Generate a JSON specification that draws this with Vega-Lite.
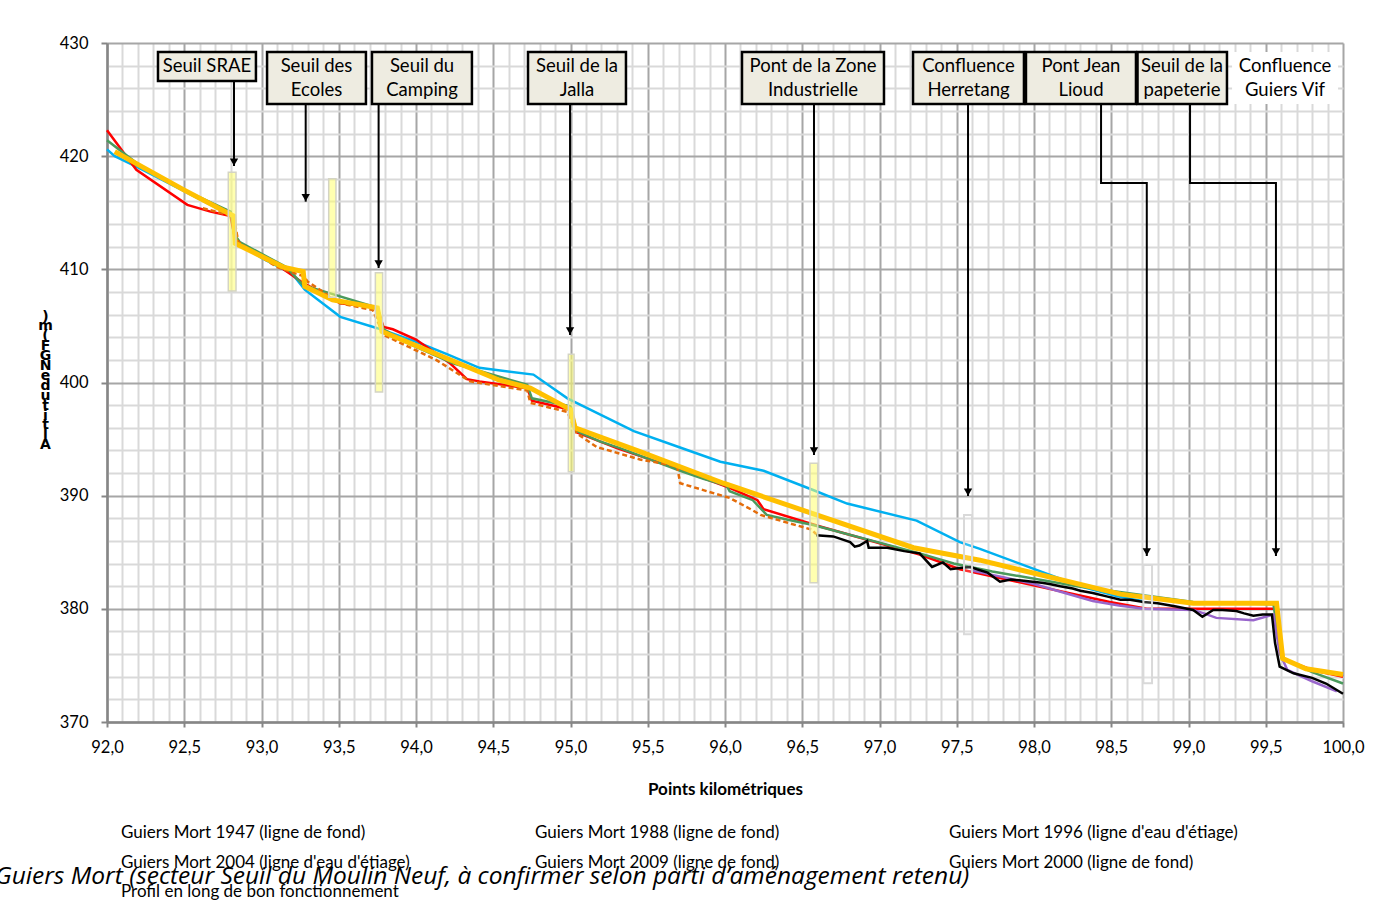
{
  "$schema": "https://vega.github.io/schema/vega-lite/v6.json",
  "width": 1236,
  "height": 679,
  "autosize": {"type": "none"},
  "padding": {"left": 107, "top": 43, "right": 35, "bottom": 180},
  "background": "white",
  "title": {
    "text": "Guiers Mort (secteur Seuil du Moulin Neuf, à confirmer selon parti d’aménagement retenu)",
    "orient": "bottom", "anchor": "start", "frame": "group", "dx": -112, "dy": -24, "offset": 0,
    "font": "Open Sans", "fontSize": 24.5, "fontStyle": "italic", "fontWeight": "normal", "color": "black", "baseline": "middle"
  },
  "config": {"view": {"stroke": null}, "font": "Lato"},
  "datasets": {
    "profiles": [
      {"s": "Guiers Mort 1947 (ligne de fond)", "km": 92.00, "alt": 420.6},
      {"s": "Guiers Mort 1947 (ligne de fond)", "km": 92.05, "alt": 420.0},
      {"s": "Guiers Mort 1947 (ligne de fond)", "km": 92.20, "alt": 419.0},
      {"s": "Guiers Mort 1947 (ligne de fond)", "km": 92.50, "alt": 416.9},
      {"s": "Guiers Mort 1947 (ligne de fond)", "km": 92.80, "alt": 414.8},
      {"s": "Guiers Mort 1947 (ligne de fond)", "km": 92.83, "alt": 412.6},
      {"s": "Guiers Mort 1947 (ligne de fond)", "km": 93.00, "alt": 411.0},
      {"s": "Guiers Mort 1947 (ligne de fond)", "km": 93.20, "alt": 409.6},
      {"s": "Guiers Mort 1947 (ligne de fond)", "km": 93.28, "alt": 408.2},
      {"s": "Guiers Mort 1947 (ligne de fond)", "km": 93.51, "alt": 405.8},
      {"s": "Guiers Mort 1947 (ligne de fond)", "km": 93.75, "alt": 404.8},
      {"s": "Guiers Mort 1947 (ligne de fond)", "km": 94.00, "alt": 403.6},
      {"s": "Guiers Mort 1947 (ligne de fond)", "km": 94.20, "alt": 402.5},
      {"s": "Guiers Mort 1947 (ligne de fond)", "km": 94.41, "alt": 401.3},
      {"s": "Guiers Mort 1947 (ligne de fond)", "km": 94.76, "alt": 400.7},
      {"s": "Guiers Mort 1947 (ligne de fond)", "km": 94.98, "alt": 398.6},
      {"s": "Guiers Mort 1947 (ligne de fond)", "km": 95.41, "alt": 395.7},
      {"s": "Guiers Mort 1947 (ligne de fond)", "km": 95.70, "alt": 394.3},
      {"s": "Guiers Mort 1947 (ligne de fond)", "km": 95.97, "alt": 393.0},
      {"s": "Guiers Mort 1947 (ligne de fond)", "km": 96.25, "alt": 392.2},
      {"s": "Guiers Mort 1947 (ligne de fond)", "km": 96.57, "alt": 390.5},
      {"s": "Guiers Mort 1947 (ligne de fond)", "km": 96.79, "alt": 389.3},
      {"s": "Guiers Mort 1947 (ligne de fond)", "km": 97.24, "alt": 387.8},
      {"s": "Guiers Mort 1947 (ligne de fond)", "km": 97.52, "alt": 385.9},
      {"s": "Guiers Mort 1947 (ligne de fond)", "km": 97.65, "alt": 385.3},
      {"s": "Guiers Mort 1947 (ligne de fond)", "km": 98.30, "alt": 382.0},
      {"s": "Guiers Mort 1947 (ligne de fond)", "km": 98.54, "alt": 381.1},
      {"s": "Guiers Mort 1947 (ligne de fond)", "km": 98.70, "alt": 380.7},

      {"s": "Guiers Mort 1996 (ligne d'eau d'étiage)", "km": 92.00, "alt": 422.3},
      {"s": "Guiers Mort 1996 (ligne d'eau d'étiage)", "km": 92.19, "alt": 418.8},
      {"s": "Guiers Mort 1996 (ligne d'eau d'étiage)", "km": 92.52, "alt": 415.7},
      {"s": "Guiers Mort 1996 (ligne d'eau d'étiage)", "km": 92.67, "alt": 415.1},
      {"s": "Guiers Mort 1996 (ligne d'eau d'étiage)", "km": 92.80, "alt": 414.7},
      {"s": "Guiers Mort 1996 (ligne d'eau d'étiage)", "km": 92.83, "alt": 412.6},
      {"s": "Guiers Mort 1996 (ligne d'eau d'étiage)", "km": 92.88, "alt": 412.1},
      {"s": "Guiers Mort 1996 (ligne d'eau d'étiage)", "km": 93.10, "alt": 410.4},
      {"s": "Guiers Mort 1996 (ligne d'eau d'étiage)", "km": 93.27, "alt": 408.8},
      {"s": "Guiers Mort 1996 (ligne d'eau d'étiage)", "km": 93.51, "alt": 407.0},
      {"s": "Guiers Mort 1996 (ligne d'eau d'étiage)", "km": 93.75, "alt": 406.6},
      {"s": "Guiers Mort 1996 (ligne d'eau d'étiage)", "km": 93.79, "alt": 404.9},
      {"s": "Guiers Mort 1996 (ligne d'eau d'étiage)", "km": 93.85, "alt": 404.7},
      {"s": "Guiers Mort 1996 (ligne d'eau d'étiage)", "km": 94.00, "alt": 403.8},
      {"s": "Guiers Mort 1996 (ligne d'eau d'étiage)", "km": 94.22, "alt": 401.7},
      {"s": "Guiers Mort 1996 (ligne d'eau d'étiage)", "km": 94.33, "alt": 400.3},
      {"s": "Guiers Mort 1996 (ligne d'eau d'étiage)", "km": 94.41, "alt": 400.1},
      {"s": "Guiers Mort 1996 (ligne d'eau d'étiage)", "km": 94.72, "alt": 399.5},
      {"s": "Guiers Mort 1996 (ligne d'eau d'étiage)", "km": 94.75, "alt": 398.4},
      {"s": "Guiers Mort 1996 (ligne d'eau d'étiage)", "km": 95.00, "alt": 397.6},
      {"s": "Guiers Mort 1996 (ligne d'eau d'étiage)", "km": 95.04, "alt": 395.6},
      {"s": "Guiers Mort 1996 (ligne d'eau d'étiage)", "km": 95.30, "alt": 394.2},
      {"s": "Guiers Mort 1996 (ligne d'eau d'étiage)", "km": 95.71, "alt": 392.3},
      {"s": "Guiers Mort 1996 (ligne d'eau d'étiage)", "km": 96.03, "alt": 390.7},
      {"s": "Guiers Mort 1996 (ligne d'eau d'étiage)", "km": 96.21, "alt": 389.6},
      {"s": "Guiers Mort 1996 (ligne d'eau d'étiage)", "km": 96.25, "alt": 388.8},
      {"s": "Guiers Mort 1996 (ligne d'eau d'étiage)", "km": 96.61, "alt": 387.3},
      {"s": "Guiers Mort 1996 (ligne d'eau d'étiage)", "km": 97.26, "alt": 384.8},
      {"s": "Guiers Mort 1996 (ligne d'eau d'étiage)", "km": 97.52, "alt": 383.5},
      {"s": "Guiers Mort 1996 (ligne d'eau d'étiage)", "km": 98.49, "alt": 380.6},
      {"s": "Guiers Mort 1996 (ligne d'eau d'étiage)", "km": 98.73, "alt": 380.0},
      {"s": "Guiers Mort 1996 (ligne d'eau d'étiage)", "km": 99.57, "alt": 380.0},
      {"s": "Guiers Mort 1996 (ligne d'eau d'étiage)", "km": 99.61, "alt": 375.6},
      {"s": "Guiers Mort 1996 (ligne d'eau d'étiage)", "km": 99.80, "alt": 374.6},
      {"s": "Guiers Mort 1996 (ligne d'eau d'étiage)", "km": 100.00, "alt": 374.0},

      {"s": "Guiers Mort 1988 (ligne de fond)", "km": 92.00, "alt": 421.4},
      {"s": "Guiers Mort 1988 (ligne de fond)", "km": 92.20, "alt": 419.3},
      {"s": "Guiers Mort 1988 (ligne de fond)", "km": 92.50, "alt": 417.0},
      {"s": "Guiers Mort 1988 (ligne de fond)", "km": 92.80, "alt": 415.1},
      {"s": "Guiers Mort 1988 (ligne de fond)", "km": 92.83, "alt": 413.0},
      {"s": "Guiers Mort 1988 (ligne de fond)", "km": 92.86, "alt": 412.4},
      {"s": "Guiers Mort 1988 (ligne de fond)", "km": 93.16, "alt": 410.2},
      {"s": "Guiers Mort 1988 (ligne de fond)", "km": 93.27, "alt": 408.6},
      {"s": "Guiers Mort 1988 (ligne de fond)", "km": 93.44, "alt": 407.9},
      {"s": "Guiers Mort 1988 (ligne de fond)", "km": 93.75, "alt": 406.6},
      {"s": "Guiers Mort 1988 (ligne de fond)", "km": 93.79, "alt": 404.7},
      {"s": "Guiers Mort 1988 (ligne de fond)", "km": 93.96, "alt": 403.4},
      {"s": "Guiers Mort 1988 (ligne de fond)", "km": 94.24, "alt": 401.7},
      {"s": "Guiers Mort 1988 (ligne de fond)", "km": 94.72, "alt": 399.8},
      {"s": "Guiers Mort 1988 (ligne de fond)", "km": 94.75, "alt": 398.6},
      {"s": "Guiers Mort 1988 (ligne de fond)", "km": 95.00, "alt": 397.9},
      {"s": "Guiers Mort 1988 (ligne de fond)", "km": 95.04, "alt": 395.7},
      {"s": "Guiers Mort 1988 (ligne de fond)", "km": 95.19, "alt": 394.8},
      {"s": "Guiers Mort 1988 (ligne de fond)", "km": 95.32, "alt": 394.2},
      {"s": "Guiers Mort 1988 (ligne de fond)", "km": 95.71, "alt": 392.2},
      {"s": "Guiers Mort 1988 (ligne de fond)", "km": 95.86, "alt": 391.5},
      {"s": "Guiers Mort 1988 (ligne de fond)", "km": 96.01, "alt": 390.9},
      {"s": "Guiers Mort 1988 (ligne de fond)", "km": 96.03, "alt": 390.4},
      {"s": "Guiers Mort 1988 (ligne de fond)", "km": 96.18, "alt": 389.6},
      {"s": "Guiers Mort 1988 (ligne de fond)", "km": 96.27, "alt": 388.3},
      {"s": "Guiers Mort 1988 (ligne de fond)", "km": 96.40, "alt": 387.9},
      {"s": "Guiers Mort 1988 (ligne de fond)", "km": 96.57, "alt": 387.4},
      {"s": "Guiers Mort 1988 (ligne de fond)", "km": 97.26, "alt": 384.9},
      {"s": "Guiers Mort 1988 (ligne de fond)", "km": 97.48, "alt": 384.0},
      {"s": "Guiers Mort 1988 (ligne de fond)", "km": 97.73, "alt": 383.3},
      {"s": "Guiers Mort 1988 (ligne de fond)", "km": 98.28, "alt": 382.0},
      {"s": "Guiers Mort 1988 (ligne de fond)", "km": 99.03, "alt": 380.6},
      {"s": "Guiers Mort 1988 (ligne de fond)", "km": 99.55, "alt": 380.4},
      {"s": "Guiers Mort 1988 (ligne de fond)", "km": 99.60, "alt": 375.7},
      {"s": "Guiers Mort 1988 (ligne de fond)", "km": 99.80, "alt": 374.4},
      {"s": "Guiers Mort 1988 (ligne de fond)", "km": 100.00, "alt": 373.4},

      {"s": "Guiers Mort 2000 (ligne de fond)", "km": 97.59, "alt": 383.4},
      {"s": "Guiers Mort 2000 (ligne de fond)", "km": 97.80, "alt": 382.8},
      {"s": "Guiers Mort 2000 (ligne de fond)", "km": 98.00, "alt": 382.2},
      {"s": "Guiers Mort 2000 (ligne de fond)", "km": 98.20, "alt": 381.4},
      {"s": "Guiers Mort 2000 (ligne de fond)", "km": 98.38, "alt": 380.7},
      {"s": "Guiers Mort 2000 (ligne de fond)", "km": 98.55, "alt": 380.3},
      {"s": "Guiers Mort 2000 (ligne de fond)", "km": 98.71, "alt": 380.0},
      {"s": "Guiers Mort 2000 (ligne de fond)", "km": 99.03, "alt": 379.9},
      {"s": "Guiers Mort 2000 (ligne de fond)", "km": 99.10, "alt": 379.6},
      {"s": "Guiers Mort 2000 (ligne de fond)", "km": 99.18, "alt": 379.2},
      {"s": "Guiers Mort 2000 (ligne de fond)", "km": 99.42, "alt": 379.0},
      {"s": "Guiers Mort 2000 (ligne de fond)", "km": 99.55, "alt": 379.5},
      {"s": "Guiers Mort 2000 (ligne de fond)", "km": 99.59, "alt": 376.1},
      {"s": "Guiers Mort 2000 (ligne de fond)", "km": 99.64, "alt": 374.6},
      {"s": "Guiers Mort 2000 (ligne de fond)", "km": 99.80, "alt": 373.6},
      {"s": "Guiers Mort 2000 (ligne de fond)", "km": 99.96, "alt": 372.7},

      {"s": "Guiers Mort 2009 (ligne de fond)", "km": 96.59, "alt": 386.5},
      {"s": "Guiers Mort 2009 (ligne de fond)", "km": 96.70, "alt": 386.4},
      {"s": "Guiers Mort 2009 (ligne de fond)", "km": 96.81, "alt": 385.9},
      {"s": "Guiers Mort 2009 (ligne de fond)", "km": 96.84, "alt": 385.5},
      {"s": "Guiers Mort 2009 (ligne de fond)", "km": 96.87, "alt": 385.6},
      {"s": "Guiers Mort 2009 (ligne de fond)", "km": 96.92, "alt": 386.0},
      {"s": "Guiers Mort 2009 (ligne de fond)", "km": 96.93, "alt": 385.4},
      {"s": "Guiers Mort 2009 (ligne de fond)", "km": 97.05, "alt": 385.4},
      {"s": "Guiers Mort 2009 (ligne de fond)", "km": 97.16, "alt": 385.1},
      {"s": "Guiers Mort 2009 (ligne de fond)", "km": 97.26, "alt": 384.9},
      {"s": "Guiers Mort 2009 (ligne de fond)", "km": 97.34, "alt": 383.7},
      {"s": "Guiers Mort 2009 (ligne de fond)", "km": 97.41, "alt": 384.1},
      {"s": "Guiers Mort 2009 (ligne de fond)", "km": 97.46, "alt": 383.5},
      {"s": "Guiers Mort 2009 (ligne de fond)", "km": 97.52, "alt": 383.6},
      {"s": "Guiers Mort 2009 (ligne de fond)", "km": 97.59, "alt": 383.7},
      {"s": "Guiers Mort 2009 (ligne de fond)", "km": 97.63, "alt": 383.5},
      {"s": "Guiers Mort 2009 (ligne de fond)", "km": 97.70, "alt": 383.2},
      {"s": "Guiers Mort 2009 (ligne de fond)", "km": 97.78, "alt": 382.4},
      {"s": "Guiers Mort 2009 (ligne de fond)", "km": 97.85, "alt": 382.6},
      {"s": "Guiers Mort 2009 (ligne de fond)", "km": 97.92, "alt": 382.5},
      {"s": "Guiers Mort 2009 (ligne de fond)", "km": 97.99, "alt": 382.4},
      {"s": "Guiers Mort 2009 (ligne de fond)", "km": 98.05, "alt": 382.3},
      {"s": "Guiers Mort 2009 (ligne de fond)", "km": 98.10, "alt": 382.2},
      {"s": "Guiers Mort 2009 (ligne de fond)", "km": 98.17, "alt": 382.0},
      {"s": "Guiers Mort 2009 (ligne de fond)", "km": 98.25, "alt": 381.8},
      {"s": "Guiers Mort 2009 (ligne de fond)", "km": 98.30, "alt": 381.6},
      {"s": "Guiers Mort 2009 (ligne de fond)", "km": 98.38, "alt": 381.4},
      {"s": "Guiers Mort 2009 (ligne de fond)", "km": 98.47, "alt": 381.1},
      {"s": "Guiers Mort 2009 (ligne de fond)", "km": 98.56, "alt": 380.8},
      {"s": "Guiers Mort 2009 (ligne de fond)", "km": 98.62, "alt": 380.8},
      {"s": "Guiers Mort 2009 (ligne de fond)", "km": 98.71, "alt": 380.6},
      {"s": "Guiers Mort 2009 (ligne de fond)", "km": 98.80, "alt": 380.5},
      {"s": "Guiers Mort 2009 (ligne de fond)", "km": 98.92, "alt": 380.2},
      {"s": "Guiers Mort 2009 (ligne de fond)", "km": 99.03, "alt": 379.9},
      {"s": "Guiers Mort 2009 (ligne de fond)", "km": 99.09, "alt": 379.3},
      {"s": "Guiers Mort 2009 (ligne de fond)", "km": 99.16, "alt": 379.9},
      {"s": "Guiers Mort 2009 (ligne de fond)", "km": 99.22, "alt": 379.9},
      {"s": "Guiers Mort 2009 (ligne de fond)", "km": 99.31, "alt": 379.8},
      {"s": "Guiers Mort 2009 (ligne de fond)", "km": 99.36, "alt": 379.6},
      {"s": "Guiers Mort 2009 (ligne de fond)", "km": 99.42, "alt": 379.4},
      {"s": "Guiers Mort 2009 (ligne de fond)", "km": 99.48, "alt": 379.5},
      {"s": "Guiers Mort 2009 (ligne de fond)", "km": 99.54, "alt": 379.5},
      {"s": "Guiers Mort 2009 (ligne de fond)", "km": 99.56, "alt": 377.0},
      {"s": "Guiers Mort 2009 (ligne de fond)", "km": 99.59, "alt": 374.9},
      {"s": "Guiers Mort 2009 (ligne de fond)", "km": 99.68, "alt": 374.3},
      {"s": "Guiers Mort 2009 (ligne de fond)", "km": 99.80, "alt": 373.9},
      {"s": "Guiers Mort 2009 (ligne de fond)", "km": 99.89, "alt": 373.4},
      {"s": "Guiers Mort 2009 (ligne de fond)", "km": 100.00, "alt": 372.5},

      {"s": "Guiers Mort 2004 (ligne d'eau d'étiage)", "km": 92.62, "alt": 415.4},
      {"s": "Guiers Mort 2004 (ligne d'eau d'étiage)", "km": 92.82, "alt": 414.7},
      {"s": "Guiers Mort 2004 (ligne d'eau d'étiage)", "km": 92.85, "alt": 412.4},
      {"s": "Guiers Mort 2004 (ligne d'eau d'étiage)", "km": 93.10, "alt": 410.2},
      {"s": "Guiers Mort 2004 (ligne d'eau d'étiage)", "km": 93.27, "alt": 409.4},
      {"s": "Guiers Mort 2004 (ligne d'eau d'étiage)", "km": 93.30, "alt": 408.9},
      {"s": "Guiers Mort 2004 (ligne d'eau d'étiage)", "km": 93.51, "alt": 407.0},
      {"s": "Guiers Mort 2004 (ligne d'eau d'étiage)", "km": 93.72, "alt": 406.4},
      {"s": "Guiers Mort 2004 (ligne d'eau d'étiage)", "km": 93.79, "alt": 404.2},
      {"s": "Guiers Mort 2004 (ligne d'eau d'étiage)", "km": 94.13, "alt": 402.0},
      {"s": "Guiers Mort 2004 (ligne d'eau d'étiage)", "km": 94.35, "alt": 400.1},
      {"s": "Guiers Mort 2004 (ligne d'eau d'étiage)", "km": 94.72, "alt": 399.3},
      {"s": "Guiers Mort 2004 (ligne d'eau d'étiage)", "km": 94.74, "alt": 398.2},
      {"s": "Guiers Mort 2004 (ligne d'eau d'étiage)", "km": 94.98, "alt": 397.4},
      {"s": "Guiers Mort 2004 (ligne d'eau d'étiage)", "km": 95.04, "alt": 395.5},
      {"s": "Guiers Mort 2004 (ligne d'eau d'étiage)", "km": 95.17, "alt": 394.3},
      {"s": "Guiers Mort 2004 (ligne d'eau d'étiage)", "km": 95.45, "alt": 393.2},
      {"s": "Guiers Mort 2004 (ligne d'eau d'étiage)", "km": 95.69, "alt": 392.6},
      {"s": "Guiers Mort 2004 (ligne d'eau d'étiage)", "km": 95.71, "alt": 391.1},
      {"s": "Guiers Mort 2004 (ligne d'eau d'étiage)", "km": 96.03, "alt": 389.8},
      {"s": "Guiers Mort 2004 (ligne d'eau d'étiage)", "km": 96.18, "alt": 388.7},
      {"s": "Guiers Mort 2004 (ligne d'eau d'étiage)", "km": 96.23, "alt": 388.3},
      {"s": "Guiers Mort 2004 (ligne d'eau d'étiage)", "km": 96.56, "alt": 387.0},
      {"s": "Guiers Mort 2004 (ligne d'eau d'étiage)", "km": 96.59, "alt": 386.6},

      {"s": "Profil en long de bon fonctionnement", "km": 92.05, "alt": 420.4},
      {"s": "Profil en long de bon fonctionnement", "km": 92.50, "alt": 417.0},
      {"s": "Profil en long de bon fonctionnement", "km": 92.82, "alt": 414.7},
      {"s": "Profil en long de bon fonctionnement", "km": 92.83, "alt": 412.3},
      {"s": "Profil en long de bon fonctionnement", "km": 93.14, "alt": 410.2},
      {"s": "Profil en long de bon fonctionnement", "km": 93.27, "alt": 409.8},
      {"s": "Profil en long de bon fonctionnement", "km": 93.28, "alt": 408.5},
      {"s": "Profil en long de bon fonctionnement", "km": 93.46, "alt": 407.3},
      {"s": "Profil en long de bon fonctionnement", "km": 93.75, "alt": 406.6},
      {"s": "Profil en long de bon fonctionnement", "km": 93.78, "alt": 404.5},
      {"s": "Profil en long de bon fonctionnement", "km": 94.54, "alt": 400.2},
      {"s": "Profil en long de bon fonctionnement", "km": 94.74, "alt": 399.5},
      {"s": "Profil en long de bon fonctionnement", "km": 95.00, "alt": 397.6},
      {"s": "Profil en long de bon fonctionnement", "km": 95.03, "alt": 396.0},
      {"s": "Profil en long de bon fonctionnement", "km": 95.45, "alt": 393.9},
      {"s": "Profil en long de bon fonctionnement", "km": 95.99, "alt": 391.1},
      {"s": "Profil en long de bon fonctionnement", "km": 96.53, "alt": 388.6},
      {"s": "Profil en long de bon fonctionnement", "km": 97.22, "alt": 385.4},
      {"s": "Profil en long de bon fonctionnement", "km": 97.65, "alt": 384.3},
      {"s": "Profil en long de bon fonctionnement", "km": 98.56, "alt": 381.3},
      {"s": "Profil en long de bon fonctionnement", "km": 99.03, "alt": 380.5},
      {"s": "Profil en long de bon fonctionnement", "km": 99.57, "alt": 380.5},
      {"s": "Profil en long de bon fonctionnement", "km": 99.61, "alt": 375.6},
      {"s": "Profil en long de bon fonctionnement", "km": 99.76, "alt": 374.7},
      {"s": "Profil en long de bon fonctionnement", "km": 100.00, "alt": 374.2}
    ],
    "zones": [
      {"kind": "jaune", "x1": 92.785, "x2": 92.835, "y1": 418.57, "y2": 408.09},
      {"kind": "jaune", "x1": 93.435, "x2": 93.482, "y1": 418.01, "y2": 407.53},
      {"kind": "jaune", "x1": 93.737, "x2": 93.784, "y1": 409.70, "y2": 399.16},
      {"kind": "jaune", "x1": 94.986, "x2": 95.023, "y1": 402.49, "y2": 392.12},
      {"kind": "jaune", "x1": 96.550, "x2": 96.600, "y1": 392.86, "y2": 382.31},
      {"kind": "gris", "x1": 97.547, "x2": 97.599, "y1": 388.29, "y2": 377.75},
      {"kind": "gris", "x1": 98.708, "x2": 98.764, "y1": 383.87, "y2": 373.42}
    ],
    "arrows": [
      {"a": 1, "step": 1, "km": 92.822, "alt": 426.64},
      {"a": 1, "step": 2, "km": 92.822, "alt": 419.13, "tip": true},
      {"a": 2, "step": 1, "km": 93.286, "alt": 424.61},
      {"a": 2, "step": 2, "km": 93.286, "alt": 415.98, "tip": true},
      {"a": 3, "step": 1, "km": 93.758, "alt": 424.61},
      {"a": 3, "step": 2, "km": 93.758, "alt": 410.12, "tip": true},
      {"a": 4, "step": 1, "km": 94.997, "alt": 424.61},
      {"a": 4, "step": 2, "km": 94.997, "alt": 404.20, "tip": true},
      {"a": 5, "step": 1, "km": 96.576, "alt": 424.61},
      {"a": 5, "step": 2, "km": 96.576, "alt": 393.60, "tip": true},
      {"a": 6, "step": 1, "km": 97.573, "alt": 424.61},
      {"a": 6, "step": 2, "km": 97.573, "alt": 389.97, "tip": true},
      {"a": 7, "step": 1, "km": 98.434, "alt": 424.61},
      {"a": 7, "step": 2, "km": 98.434, "alt": 417.63},
      {"a": 7, "step": 3, "km": 98.730, "alt": 417.63},
      {"a": 7, "step": 4, "km": 98.730, "alt": 384.67, "tip": true},
      {"a": 8, "step": 1, "km": 99.010, "alt": 424.61},
      {"a": 8, "step": 2, "km": 99.010, "alt": 417.63},
      {"a": 8, "step": 3, "km": 99.566, "alt": 417.63},
      {"a": 8, "step": 4, "km": 99.566, "alt": 384.67, "tip": true}
    ],
    "boxes": [
      {"kind": "box", "label": "Seuil SRAE", "x1": 92.330, "x2": 92.964, "y1": 429.20, "y2": 426.64, "xc": 92.647, "yc": 427.95},
      {"kind": "box", "label": "Seuil des\nEcoles", "x1": 93.036, "x2": 93.676, "y1": 429.20, "y2": 424.61, "xc": 93.356, "yc": 427.95},
      {"kind": "box", "label": "Seuil du\nCamping", "x1": 93.715, "x2": 94.362, "y1": 429.20, "y2": 424.61, "xc": 94.039, "yc": 427.95},
      {"kind": "box", "label": "Seuil de la\nJalla", "x1": 94.725, "x2": 95.359, "y1": 429.20, "y2": 424.61, "xc": 95.042, "yc": 427.95},
      {"kind": "box", "label": "Pont de la Zone\nIndustrielle", "x1": 96.110, "x2": 97.029, "y1": 429.20, "y2": 424.61, "xc": 96.570, "yc": 427.95},
      {"kind": "box", "label": "Confluence\nHerretang", "x1": 97.217, "x2": 97.935, "y1": 429.20, "y2": 424.61, "xc": 97.576, "yc": 427.95},
      {"kind": "box", "label": "Pont Jean\nLioud", "x1": 97.948, "x2": 98.660, "y1": 429.20, "y2": 424.61, "xc": 98.304, "yc": 427.95},
      {"kind": "box", "label": "Seuil de la\npapeterie", "x1": 98.670, "x2": 99.249, "y1": 429.20, "y2": 424.61, "xc": 98.958, "yc": 427.95},
      {"kind": "plain", "label": "Confluence\nGuiers Vif", "x1": 99.282, "x2": 99.968, "y1": 429.20, "y2": 424.61, "xc": 99.625, "yc": 427.95}
    ]
  },
  "layer": [
    {
      "data": {"name": "profiles"},
      "transform": [{"filter": "datum.s !== 'Profil en long de bon fonctionnement' && datum.s !== \"Guiers Mort 2004 (ligne d'eau d'étiage)\""}],
      "mark": {"type": "line", "strokeWidth": 2.5},
      "encoding": {
        "x": {"field": "km", "type": "quantitative", "scale": {"domain": [92, 100], "nice": false, "zero": false},
          "axis": {"orient": "bottom", "values": [92.1,92.2,92.3,92.4,92.6,92.7,92.8,92.9,93.1,93.2,93.3,93.4,93.6,93.7,93.8,93.9,94.1,94.2,94.3,94.4,94.6,94.7,94.8,94.9,95.1,95.2,95.3,95.4,95.6,95.7,95.8,95.9,96.1,96.2,96.3,96.4,96.6,96.7,96.8,96.9,97.1,97.2,97.3,97.4,97.6,97.7,97.8,97.9,98.1,98.2,98.3,98.4,98.6,98.7,98.8,98.9,99.1,99.2,99.3,99.4,99.6,99.7,99.8,99.9],
            "grid": true, "gridColor": "#d9d9d9", "gridWidth": 2, "labels": false, "ticks": false, "domain": false, "title": null}},
        "y": {"field": "alt", "type": "quantitative", "scale": {"domain": [370, 430], "nice": false, "zero": false},
          "axis": {"orient": "left", "values": [372,374,376,378,382,384,386,388,392,394,396,398,402,404,406,408,412,414,416,418,422,424,426,428],
            "grid": true, "gridColor": "#d9d9d9", "gridWidth": 2, "labels": false, "ticks": false, "domain": false, "title": null}},
        "color": {"field": "s", "type": "nominal",
          "scale": {"domain": ["Guiers Mort 1947 (ligne de fond)", "Guiers Mort 1988 (ligne de fond)", "Guiers Mort 1996 (ligne d'eau d'étiage)", "Guiers Mort 2004 (ligne d'eau d'étiage)", "Guiers Mort 2009 (ligne de fond)", "Guiers Mort 2000 (ligne de fond)", "Profil en long de bon fonctionnement"],
            "range": ["#00b0f0", "#4a9a5c", "#ff0000", "#e46c0a", "#000000", "#9966cc", "#ffc000"]},
          "legend": {"orient": "none", "legendX": -3, "legendY": 781.5, "columns": 3, "direction": "horizontal", "gridAlign": "all", "columnPadding": 108, "rowPadding": 11.5,
            "title": null, "symbolSize": 0, "symbolStrokeWidth": 0, "symbolOpacity": 0, "labelOffset": 0,
            "labelFont": "Lato", "labelFontSize": 17, "labelColor": "black", "labelLimit": 600}}
      }
    },
    {
      "data": {"name": "profiles"},
      "transform": [{"filter": "datum.s === \"Guiers Mort 2004 (ligne d'eau d'étiage)\""}],
      "mark": {"type": "line", "strokeWidth": 2.5, "strokeDash": [5, 3], "color": "#e46c0a"},
      "encoding": {
        "x": {"field": "km", "type": "quantitative", "axis": null},
        "y": {"field": "alt", "type": "quantitative", "axis": null}
      }
    },
    {
      "data": {"name": "profiles"},
      "transform": [{"filter": "datum.s === 'Profil en long de bon fonctionnement'"}],
      "mark": {"type": "line", "strokeWidth": 5, "color": "#ffc000"},
      "encoding": {
        "x": {"field": "km", "type": "quantitative",
          "axis": {"orient": "bottom", "values": [92,92.5,93,93.5,94,94.5,95,95.5,96,96.5,97,97.5,98,98.5,99,99.5,100],
            "grid": true, "gridColor": "#a6a6a6", "gridWidth": 2, "domain": true, "domainColor": "#868686", "domainWidth": 2.5,
            "ticks": true, "tickColor": "#868686", "tickWidth": 2, "tickSize": 5,
            "labelExpr": "replace(format(datum.value, '.1f'), '.', ',')", "labelFont": "Lato", "labelFontSize": 16.5, "labelColor": "black",
            "labelPadding": 12, "labelFlush": false, "labelOverlap": false,
            "title": "Points kilométriques", "titleFont": "Lato", "titleFontSize": 17, "titleFontWeight": "bold", "titleColor": "black", "titlePadding": 26}},
        "y": {"field": "alt", "type": "quantitative",
          "axis": {"orient": "left", "values": [370,380,390,400,410,420,430],
            "grid": true, "gridColor": "#a6a6a6", "gridWidth": 2, "domain": true, "domainColor": "#868686", "domainWidth": 2.5,
            "ticks": true, "tickColor": "#868686", "tickWidth": 2, "tickSize": 6,
            "labelFont": "Lato", "labelFontSize": 16.5, "labelColor": "black", "labelPadding": 13,
            "title": [")", "m", "(", "F", "G", "N", "e", "d", "u", "t", "i", "t", "l", "A"],
            "titleAngle": 0, "titleX": -62, "titleY": 266, "titleAlign": "center", "titleBaseline": "top",
            "titleFont": "DejaVu Sans", "titleFontSize": 14, "titleFontWeight": "bold", "titleColor": "black", "titleLineHeight": 9.9}}
      }
    },
    {
      "data": {"name": "zones"},
      "transform": [{"filter": "datum.kind === 'jaune'"}],
      "mark": {"type": "rect", "fill": "#ffff70", "fillOpacity": 0.55, "stroke": "#d4d4c4", "strokeWidth": 1.5},
      "encoding": {
        "x": {"field": "x1", "type": "quantitative", "axis": null}, "x2": {"field": "x2"},
        "y": {"field": "y1", "type": "quantitative", "axis": null}, "y2": {"field": "y2"}
      }
    },
    {
      "data": {"name": "zones"},
      "transform": [{"filter": "datum.kind === 'gris'"}],
      "mark": {"type": "rect", "fill": "white", "fillOpacity": 0.2, "stroke": "#d9d9d9", "strokeWidth": 2},
      "encoding": {
        "x": {"field": "x1", "type": "quantitative", "axis": null}, "x2": {"field": "x2"},
        "y": {"field": "y1", "type": "quantitative", "axis": null}, "y2": {"field": "y2"}
      }
    },
    {
      "data": {"name": "arrows"},
      "mark": {"type": "line", "color": "black", "strokeWidth": 2},
      "encoding": {
        "x": {"field": "km", "type": "quantitative", "axis": null},
        "y": {"field": "alt", "type": "quantitative", "axis": null},
        "detail": {"field": "a", "type": "nominal"},
        "order": {"field": "step", "type": "quantitative"}
      }
    },
    {
      "data": {"name": "arrows"},
      "transform": [{"filter": "datum.tip === true"}],
      "mark": {"type": "point", "shape": "triangle-down", "filled": true, "color": "black", "opacity": 1, "size": 70, "yOffset": -4},
      "encoding": {
        "x": {"field": "km", "type": "quantitative", "axis": null},
        "y": {"field": "alt", "type": "quantitative", "axis": null}
      }
    },
    {
      "data": {"name": "boxes"},
      "mark": {"type": "rect"},
      "encoding": {
        "x": {"field": "x1", "type": "quantitative", "axis": null}, "x2": {"field": "x2"},
        "y": {"field": "y1", "type": "quantitative", "axis": null}, "y2": {"field": "y2"},
        "fill": {"condition": {"test": "datum.kind === 'box'", "value": "#eeece1"}, "value": "white"},
        "stroke": {"value": "black"},
        "strokeWidth": {"condition": {"test": "datum.kind === 'box'", "value": 2.5}, "value": 0}
      }
    },
    {
      "data": {"name": "boxes"},
      "mark": {"type": "text", "lineBreak": "\n", "align": "center", "baseline": "middle", "font": "Lato", "fontSize": 18.5, "lineHeight": 24, "color": "black"},
      "encoding": {
        "x": {"field": "xc", "type": "quantitative", "axis": null},
        "y": {"field": "yc", "type": "quantitative", "axis": null},
        "text": {"field": "label"}
      }
    }
  ],
  "resolve": {"axis": {"x": "independent", "y": "independent"}}
}
